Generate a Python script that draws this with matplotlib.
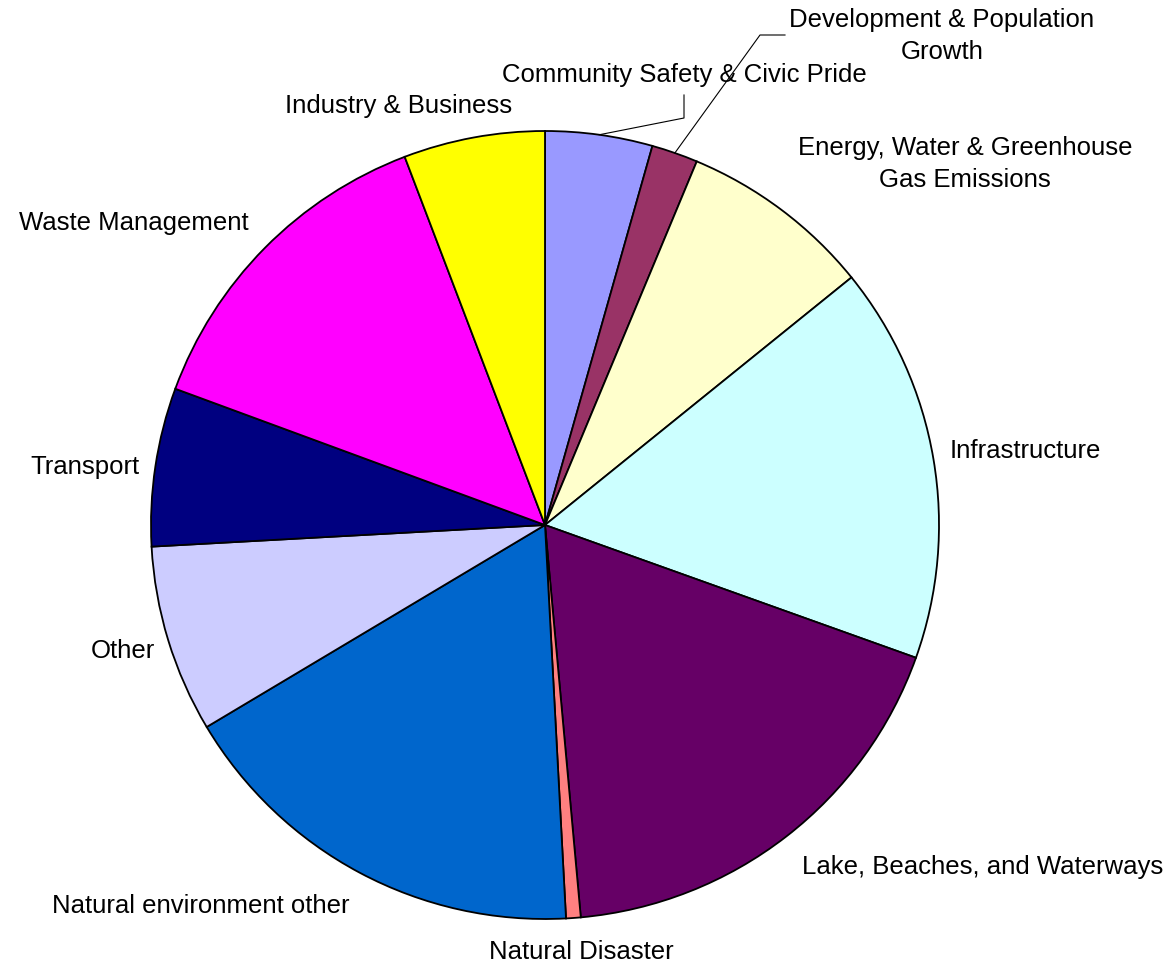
import numpy as np
import matplotlib
matplotlib.use("Agg")
import matplotlib.pyplot as plt

plt.rcParams['font.family'] = ['Liberation Sans', 'DejaVu Sans']

categories = [
    "Community Safety & Civic Pride",
    "Development & Population\nGrowth",
    "Energy, Water & Greenhouse\nGas Emissions",
    "Infrastructure",
    "Lake, Beaches, and Waterways",
    "Natural Disaster",
    "Natural environment other",
    "Other",
    "Transport",
    "Waste Management",
    "Industry & Business",
]
values = [4.4, 1.9, 7.9, 16.3, 18.1, 0.6, 17.3, 7.7, 6.5, 13.6, 5.8]
colors = ["#9999FF", "#993366", "#FFFFCC", "#CCFFFF", "#660066", "#FF8080",
          "#0066CC", "#CCCCFF", "#000080", "#FF00FF", "#FFFF00"]

W, H = 1174, 966
CX, CY, R = 545, 525, 394

fig = plt.figure(figsize=(W / 100, H / 100), dpi=100)
ax = fig.add_axes([0, 0, 1, 1])

wedges, _ = ax.pie(values, colors=colors, startangle=90, counterclock=False,
                   radius=1.0, center=(0, 0),
                   wedgeprops=dict(edgecolor='black', linewidth=1.3))
ax.set_xlim(-CX / R, (W - CX) / R)
ax.set_ylim(-(H - CY) / R, CY / R)
ax.set_aspect('equal')
ax.axis('off')

def p(x, y):
    return ((x - CX) / R, (CY - y) / R)

# label placement (pixel positions, alignment)
label_pos = [
    (684, 75, 'center'),
    (942, 36, 'center'),
    (965, 164, 'center'),
    (950, 451, 'left'),
    (983, 867, 'center'),
    (581, 952, 'center'),
    (201, 906, 'center'),
    (155, 651, 'right'),
    (139, 467, 'right'),
    (134, 223, 'center'),
    (399, 106, 'center'),
]
for lab, (x, y, ha) in zip(categories, label_pos):
    tx, ty = p(x, y)
    ax.text(tx, ty, lab, ha=ha, va='center', fontsize=18.5, color='black',
            multialignment='center', linespacing=1.42)

# leader lines
def edge_point(w):
    th = np.deg2rad((w.theta1 + w.theta2) / 2)
    return (np.cos(th), np.sin(th))

ex, ey = edge_point(wedges[0])
a = p(684, 95); b = p(684, 118)
ax.plot([a[0], b[0], ex], [a[1], b[1], ey], color='black', lw=0.8)

ex, ey = edge_point(wedges[1])
a = p(785, 35); b = p(760, 35)
ax.plot([a[0], b[0], ex], [a[1], b[1], ey], color='black', lw=0.8)

fig.savefig("out.png", dpi=100, facecolor='white')
